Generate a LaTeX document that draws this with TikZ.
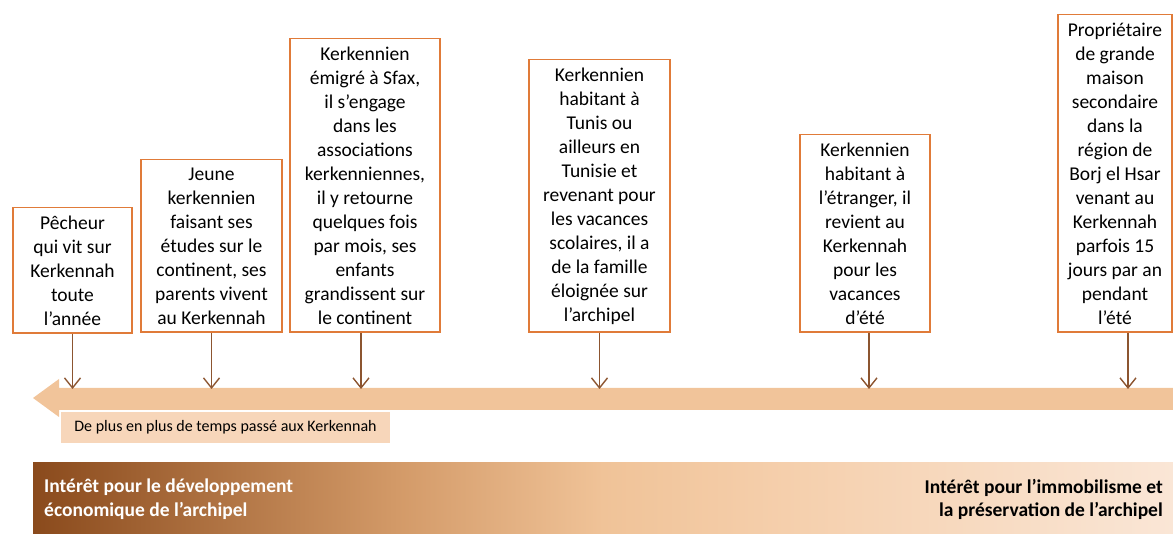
\documentclass[tikz,border=0pt]{standalone}
\usepackage{fontspec}
\setmainfont{Carlito}
\usetikzlibrary{positioning, arrows.meta}

\definecolor{bord}{HTML}{E07B39}
\definecolor{brun}{HTML}{8C5530}
\definecolor{bande}{HTML}{F1C49A}
\definecolor{etiq}{HTML}{F7D6BA}
\definecolor{fonce}{HTML}{8A4A1C}
\definecolor{moyen}{HTML}{D39A68}
\definecolor{peche}{HTML}{F0C398}
\definecolor{sable}{HTML}{F5CFAC}
\definecolor{clair}{HTML}{FAE6D6}
\pgfdeclarehorizontalshading{degrade}{100bp}{color(0bp)=(fonce); color(25bp)=(fonce);
  color(41bp)=(moyen); color(50bp)=(peche); color(58bp)=(sable);
  color(75bp)=(clair); color(100bp)=(clair)}

\begin{document}
\begin{tikzpicture}[
  x=1pt, y=-1pt,
  profil/.style={rectangle, draw=bord, line width=1.6pt, fill=white,
                 anchor=south, align=center, inner xsep=2pt, inner ysep=8pt,
                 font=\fontsize{19.5}{24}\selectfont},
  arr/.style={-{Straight Barb[length=10pt, width=16pt, line width=1.4pt]},
              draw=brun, line width=1.4pt},
  titre/.style={font=\fontsize{19.5}{23.5}\selectfont\bfseries, inner sep=0pt},
]
\useasboundingbox (0,0) rectangle (1173,534);
% bande de gradient en bas
\fill[shading=degrade] (33,462) rectangle (1173,534);
\node[titre, text=white, anchor=north west, align=left] (dev) at (44,479)
  {Intérêt pour le développement\\économique de l’archipel};
\node[titre, text=black, anchor=north east, align=right] (pres) at (1163,479)
  {Intérêt pour l’immobilisme et\\la préservation de l’archipel};
% grande flèche
\fill[bande] (33,398) -- (59,379) -- (59,388) -- (1173,388) -- (1173,410)
  -- (59,410) -- (59,417) -- cycle;
\coordinate (axe) at (0,389);
\node[fill=etiq, draw=white, line width=1pt, anchor=north west,
      minimum width=330pt, minimum height=32pt,
      font=\fontsize{16}{19}\selectfont] (temps) at (60,411)
  {De plus en plus de temps passé aux Kerkennah};
% profils
\node[profil, minimum width=119pt] (pecheur) at (72.5,334)
  {Pêcheur\\qui vit sur\\Kerkennah\\toute\\l’année};
\node[profil, minimum width=141pt] (etudiant) at (211.5,333)
  {Jeune\\kerkennien\\faisant ses\\études sur le\\continent, ses\\parents vivent\\au Kerkennah};
\node[profil, minimum width=150pt] (sfax) at (365,333)
  {Kerkennien\\émigré à Sfax,\\il s’engage\\dans les\\associations\\kerkenniennes,\\il y retourne\\quelques fois\\par mois, ses\\enfants\\grandissent sur\\le continent};
\node[profil, minimum width=141pt] (tunis) at (599.5,333)
  {Kerkennien\\habitant à\\Tunis ou\\ailleurs en\\Tunisie et\\revenant pour\\les vacances\\scolaires, il a\\de la famille\\éloignée sur\\l’archipel};
\node[profil, minimum width=130pt] (etranger) at (865,333)
  {Kerkennien\\habitant à\\l’étranger, il\\revient au\\Kerkennah\\pour les\\vacances\\d’été};
\node[profil, minimum width=114pt] (borj) at (1115,333)
  {Propriétaire\\de grande\\maison\\secondaire\\dans la\\région de\\Borj el Hsar\\venant au\\Kerkennah\\parfois 15\\jours par an\\pendant\\l’été};
% flèches vers l'axe
\draw[arr] (pecheur.south) -- (pecheur.south |- axe);
\draw[arr] (etudiant.south) -- (etudiant.south |- axe);
\draw[arr] ([xshift=-4pt]sfax.south) -- ([xshift=-4pt]sfax.south |- axe);
\draw[arr] (tunis.south) -- (tunis.south |- axe);
\draw[arr] ([xshift=4pt]etranger.south) -- ([xshift=4pt]etranger.south |- axe);
\draw[arr] ([xshift=13pt]borj.south) -- ([xshift=13pt]borj.south |- axe);
\end{tikzpicture}
\end{document}
